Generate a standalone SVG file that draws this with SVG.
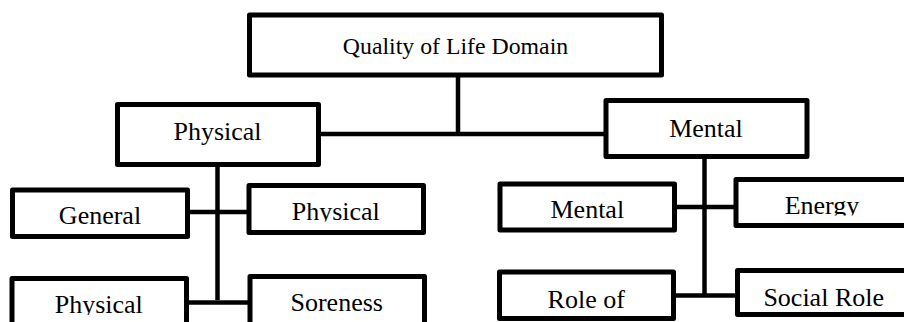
<svg xmlns="http://www.w3.org/2000/svg" width="904" height="322" viewBox="0 0 904 322">
<style>
.box{fill:#fff;stroke:#000;stroke-width:5;stroke-linejoin:round}
.conn{stroke:#000;stroke-width:4.5;fill:none}
.t{font-family:"Liberation Serif","Times New Roman",serif;font-size:26px;fill:#000;text-anchor:middle}
.top{font-size:23.8px}
</style>
<defs>
<clipPath id="c1"><rect x="240" y="180" width="190" height="41.5"/></clipPath>
<clipPath id="c2"><rect x="730" y="170" width="180" height="45.5"/></clipPath>
<clipPath id="c3"><rect x="0" y="270" width="200" height="45"/></clipPath>
</defs>
<rect width="904" height="322" fill="#fff"/>
<g id="connectors">
<line class="conn" x1="458" y1="77" x2="458" y2="134"/>
<line class="conn" x1="321" y1="134" x2="604" y2="134"/>
<line class="conn" x1="217.5" y1="167" x2="217.5" y2="300"/>
<line class="conn" x1="190" y1="212" x2="247" y2="212"/>
<line class="conn" x1="189" y1="302.5" x2="248" y2="302.5"/>
<line class="conn" x1="704.5" y1="159" x2="704.5" y2="294"/>
<line class="conn" x1="677" y1="207" x2="734" y2="207"/>
<line class="conn" x1="676" y1="295.5" x2="735.5" y2="295.5"/>
</g>
<g id="root">
<rect class="box" x="249.5" y="15" width="412" height="60"/>
<text class="t top" x="455.5" y="53.5">Quality of Life Domain</text>
</g>
<g id="physical">
<rect class="box" x="117.5" y="104.5" width="201" height="60"/>
<text class="t" x="217.5" y="140">Physical</text>
</g>
<g id="mental">
<rect class="box" x="606" y="100.5" width="201" height="56"/>
<text class="t" x="706" y="136.7">Mental</text>
</g>
<g id="general">
<rect class="box" x="12.5" y="190" width="175" height="46.5"/>
<text class="t" x="100" y="224.3">General</text>
</g>
<g id="physical2">
<rect class="box" x="249" y="185.5" width="174.5" height="47"/>
<text class="t" x="335.8" y="220.3" clip-path="url(#c1)">Physical</text>
</g>
<g id="physical3">
<rect class="box" x="12" y="278.5" width="174.5" height="60"/>
<text class="t" x="98.8" y="312.7" clip-path="url(#c3)">Physical</text>
</g>
<g id="soreness">
<rect class="box" x="250" y="276.5" width="174.5" height="60"/>
<text class="t" x="336.7" y="311">Soreness</text>
</g>
<g id="mental2">
<rect class="box" x="500" y="184" width="174.5" height="46"/>
<text class="t" x="587.3" y="218.3">Mental</text>
</g>
<g id="energy">
<rect class="box" x="736" y="179.5" width="180" height="46"/>
<text class="t" x="822" y="214.3" clip-path="url(#c2)">Energy</text>
</g>
<g id="roleof">
<rect class="box" x="499.5" y="272" width="174" height="46.5"/>
<text class="t" x="586.2" y="307.7">Role of</text>
</g>
<g id="socialrole">
<rect class="box" x="737.5" y="270.5" width="180" height="44"/>
<text class="t" x="823.7" y="306">Social Role</text>
</g>
</svg>
